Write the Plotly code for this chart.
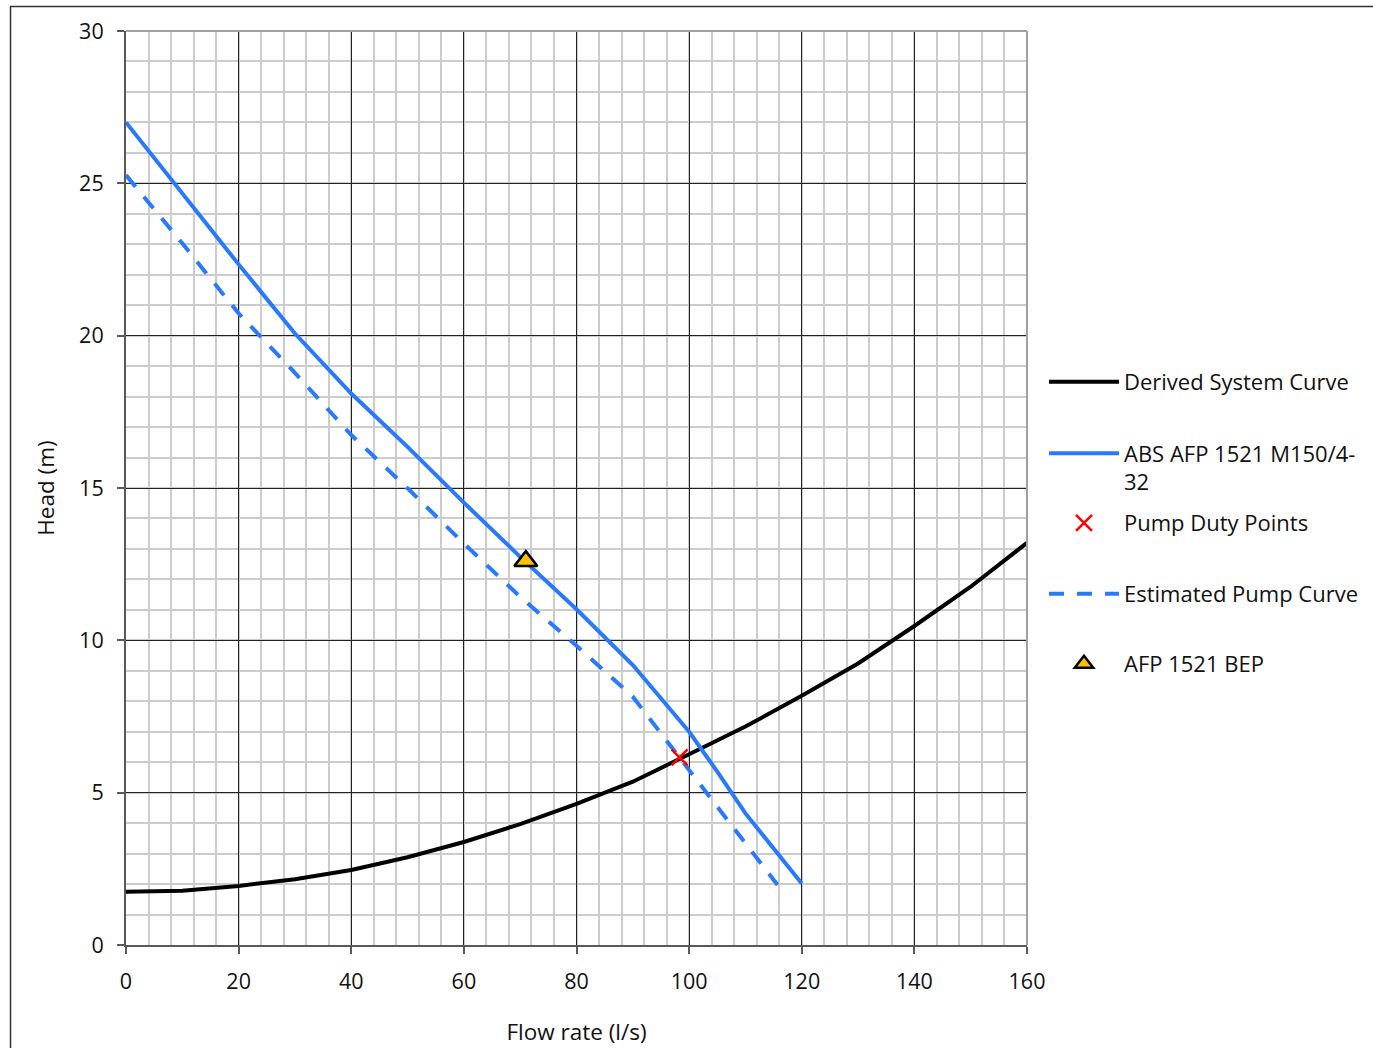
import plotly.graph_objects as go

# Flow rate (l/s) and head (m) values for each curve
system_flow = [0, 10, 20, 30, 40, 50, 60, 70, 80, 90, 100, 110, 120, 130, 140, 150, 160]
system_head = [1.75, 1.78, 1.94, 2.16, 2.46, 2.88, 3.38, 3.97, 4.63, 5.36, 6.26, 7.17, 8.18, 9.24, 10.47, 11.76, 13.2]

abs_flow = [0, 10, 20, 30, 40, 50, 60, 70, 80, 90, 100, 105, 110, 120]
abs_head = [27.0, 24.67, 22.34, 20.07, 18.1, 16.35, 14.52, 12.74, 11.02, 9.19, 7.0, 5.69, 4.32, 2.02]

est_flow = [0, 10, 20, 30, 40, 50, 60, 70, 80, 90, 100, 110, 115.7]
est_head = [25.27, 23.03, 20.73, 18.78, 16.74, 14.99, 13.18, 11.43, 9.82, 8.15, 5.74, 3.34, 1.97]

duty_flow = [98.3]
duty_head = [6.16]

bep_flow = [71.0]
bep_head = [12.6]

x_ticks = [0, 20, 40, 60, 80, 100, 120, 140, 160]
y_ticks = [0, 5, 10, 15, 20, 25, 30]

FONT = "Open Sans"
TEXT = "#111111"
BLUE = "#2979FF"

fig = go.Figure()

fig.add_trace(go.Scatter(
    x=system_flow, y=system_head, mode="lines", name="Derived System Curve",
    line=dict(color="black", width=4), legend="legend", showlegend=True))
fig.add_trace(go.Scatter(
    x=abs_flow, y=abs_head, mode="lines", name="ABS AFP 1521 M150/4-<br>32",
    line=dict(color=BLUE, width=4), legend="legend2"))
fig.add_trace(go.Scatter(
    x=est_flow, y=est_head, mode="lines", name="Estimated Pump Curve",
    line=dict(color=BLUE, width=4, dash="15px,13px"), legend="legend4"))
fig.add_trace(go.Scatter(
    x=duty_flow, y=duty_head, mode="markers", name="Pump Duty Points",
    marker=dict(symbol="x-thin", size=16, line=dict(color="#FF0000", width=2.5)),
    legend="legend3"))
fig.add_trace(go.Scatter(
    x=bep_flow, y=bep_head, mode="markers", name="AFP 1521 BEP",
    marker=dict(symbol="triangle-up", size=20, color="#FFC000",
                line=dict(color="black", width=2.5)),
    legend="legend5"))

L, R, T, B = 126, 346, 31, 103
PW, PH = 1373 - L - R, 1048 - T - B


def px_x(p):
    return (p - L) / PW


def px_y(p):
    return (1048 - B - p) / PH


def legend_at(ycenter, valign="middle"):
    return dict(x=px_x(1044), y=px_y(ycenter), xanchor="left", yanchor="middle",
                font=dict(family=FONT, size=22, color=TEXT),
                bgcolor="rgba(0,0,0,0)", itemwidth=70, valign=valign,
                borderwidth=0)


axis_common = dict(
    showline=True, linecolor="#595959", linewidth=2, mirror=False,
    ticks="outside", ticklen=7, tickwidth=1.5, tickcolor="#595959",
    showgrid=True, gridcolor="#222222", gridwidth=1, zeroline=False,
    tickfont=dict(family=FONT, size=21.5, color=TEXT),
    ticklabelstandoff=9,
)

fig.update_layout(
    width=1373, height=1048,
    margin=dict(l=L, r=R, t=T, b=B, autoexpand=False),
    paper_bgcolor="white", plot_bgcolor="white",
    font=dict(family=FONT, size=22, color=TEXT),
    showlegend=True,
    xaxis=dict(
        range=[0, 160], tickvals=x_ticks, ticktext=[str(v) for v in x_ticks],
        minor=dict(dtick=4, tick0=0, showgrid=True, gridcolor="#cccccc", gridwidth=1.5),
        title=dict(text="Flow rate (l/s)", standoff=30,
                   font=dict(family=FONT, size=22.5, color=TEXT)),
        automargin=False, **axis_common),
    yaxis=dict(
        range=[0, 30], tickvals=y_ticks, ticktext=[str(v) for v in y_ticks],
        minor=dict(dtick=1, tick0=0, showgrid=True, gridcolor="#cccccc", gridwidth=1.5),
        title=dict(text="Head (m)", standoff=18,
                   font=dict(family=FONT, size=22.5, color=TEXT)),
        automargin=False, **axis_common),
    legend=legend_at(382),
    legend2=legend_at(468, valign="top"),
    legend3=legend_at(523),
    legend4=legend_at(594),
    legend5=legend_at(664),
    shapes=[
        # top and right frame of the plot area
        dict(type="line", xref="paper", yref="paper", x0=0, x1=1, y0=1, y1=1,
             line=dict(color="#a0a0a0", width=2)),
        dict(type="line", xref="paper", yref="paper", x0=1, x1=1, y0=0, y1=1,
             line=dict(color="#a0a0a0", width=2)),
        # outer chart border
        dict(type="rect", xref="paper", yref="paper",
             x0=px_x(10.5), x1=px_x(1400), y0=px_y(6.5), y1=px_y(1100),
             line=dict(color="#333333", width=1.5), layer="below"),
    ],
)

fig.write_html("out.html")
